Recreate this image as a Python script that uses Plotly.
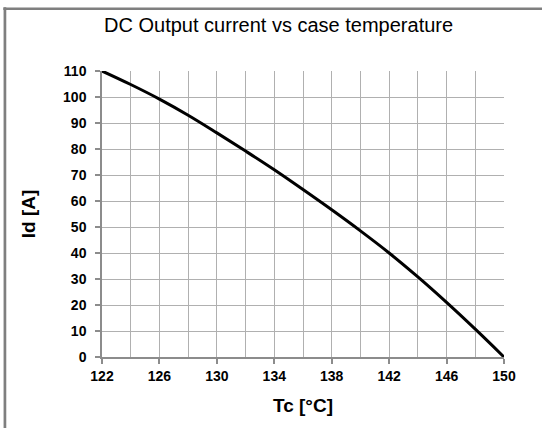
import plotly.graph_objects as go

# Data
tc = [122, 124, 126, 128, 130, 132, 134, 136, 138, 140, 142, 144, 146, 148, 150]
id_a = [110, 104.8, 99.2, 93.0, 86.2, 79.2, 72.0, 64.4, 56.6, 48.5, 40.0, 30.8, 21.0, 10.7, 0]

x_ticks = [122, 126, 130, 134, 138, 142, 146, 150]
y_ticks = [0, 10, 20, 30, 40, 50, 60, 70, 80, 90, 100, 110]

title_text = "DC Output current vs case temperature"
x_title = "Tc [°C]"
y_title = "Id [A]"

fig = go.Figure()
fig.add_trace(go.Scatter(
    x=tc, y=id_a, mode="lines",
    line=dict(color="black", width=3, shape="spline", smoothing=1.0),
    showlegend=False, hoverinfo="skip",
))

grid_col = "#b0b0b0"
axis_col = "#8c8c8c"
font_fam = "Liberation Sans, Arial, sans-serif"

fig.update_layout(
    width=542, height=428,
    paper_bgcolor="white", plot_bgcolor="white",
    margin=dict(l=102, r=38, t=71, b=71),
    title=dict(text=title_text, x=0.514, xanchor="center", y=0.942, yanchor="middle",
               font=dict(family=font_fam, size=20, color="black")),
    xaxis=dict(
        range=[122, 150], tickmode="array", tickvals=x_ticks,
        ticktext=[str(v) for v in x_ticks],
        showgrid=True, gridcolor=grid_col, gridwidth=1.2,
        minor=dict(dtick=2, tick0=122, showgrid=True, gridcolor=grid_col, gridwidth=1.2, ticks=""),
        showline=True, linecolor=axis_col, linewidth=1.5,
        ticks="outside", ticklen=5, tickcolor=axis_col, tickwidth=1.5,
        tickfont=dict(family=font_fam, size=14, color="black", weight="bold"),
        title=dict(text="<b>" + x_title + "</b>", standoff=16,
                   font=dict(family=font_fam, size=19, color="black")),
        zeroline=False, fixedrange=True,
    ),
    yaxis=dict(
        range=[0, 110], tickmode="array", tickvals=y_ticks,
        ticktext=[str(v) for v in y_ticks],
        showgrid=True, gridcolor=grid_col, gridwidth=1.2,
        showline=True, linecolor=axis_col, linewidth=1.5,
        ticks="outside", ticklen=5, tickcolor=axis_col, tickwidth=1.5,
        ticklabelstandoff=6,
        tickfont=dict(family=font_fam, size=14, color="black", weight="bold"),
        title=dict(text="<b>" + y_title + "</b>", standoff=22,
                   font=dict(family=font_fam, size=19, color="black")),
        zeroline=False, fixedrange=True,
    ),
)

# Outer chart frame (only left and top edges are visible in the reference)
left_x = (5.3 - 102.3) / 401.7
top_y = (357.3 - 8.3) / 286.6
fig.add_shape(type="line", xref="paper", yref="paper",
              x0=left_x, x1=left_x, y0=top_y + 0.005, y1=-0.3,
              line=dict(color="#7f7f7f", width=2.7), layer="above")
fig.add_shape(type="line", xref="paper", yref="paper",
              x0=left_x - 0.004, x1=1.2, y0=top_y, y1=top_y,
              line=dict(color="#7f7f7f", width=2.7), layer="above")

fig.write_html("out.html", config={"displayModeBar": False},
               post_script="document.body.style.margin='0';document.body.style.overflow='hidden';")
